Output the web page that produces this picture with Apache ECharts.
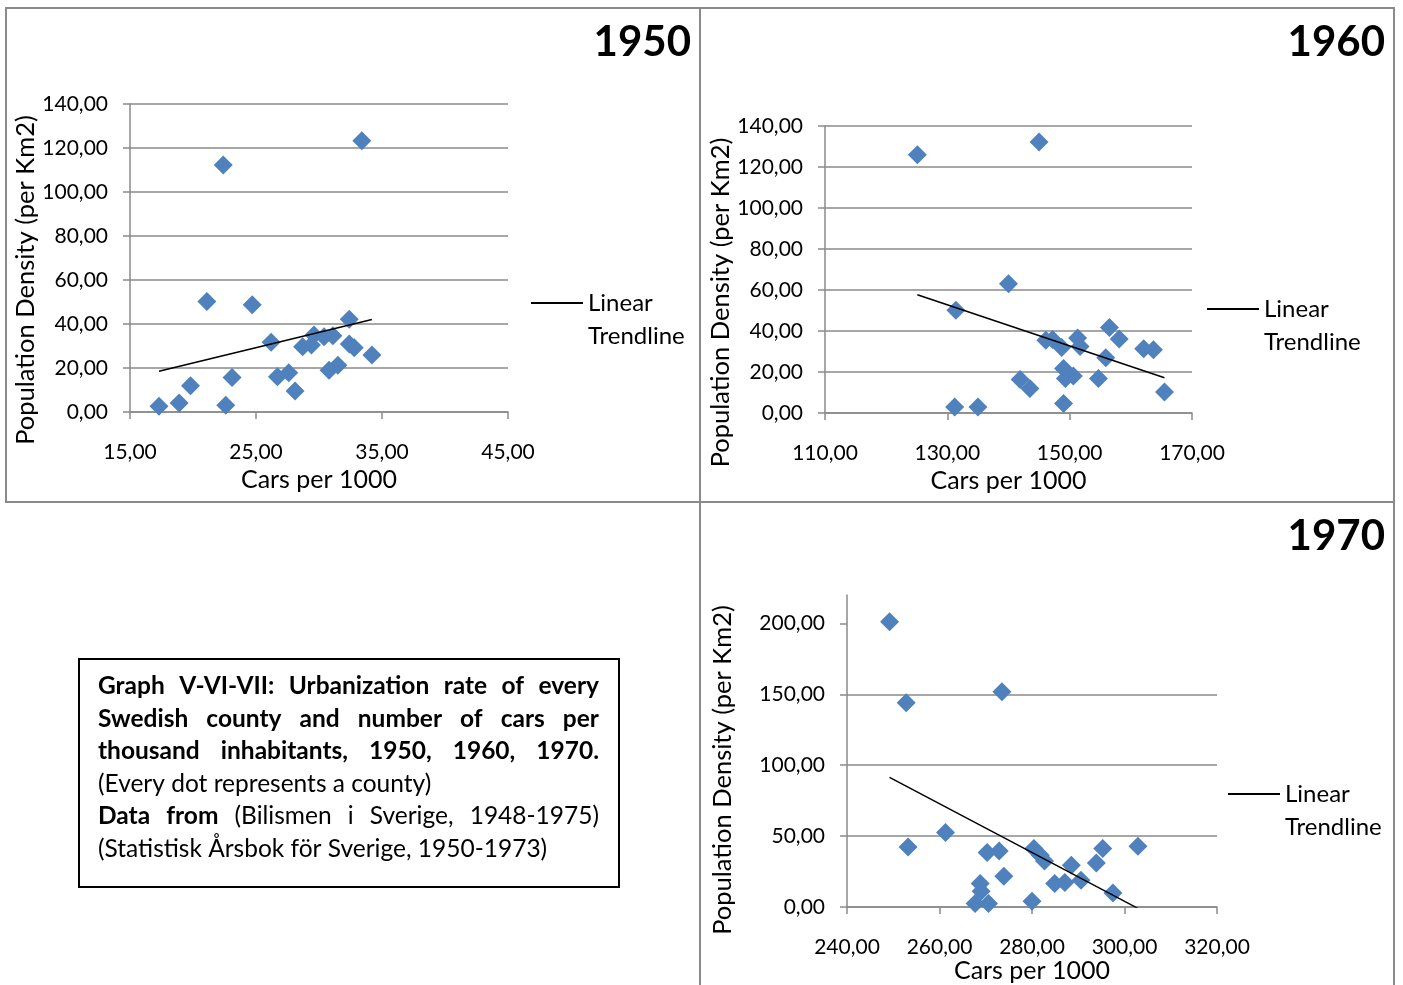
<!DOCTYPE html>
<html><head><meta charset="utf-8">
<script src="https://cdn.jsdelivr.net/npm/echarts@6/dist/echarts.min.js"></script>
<style>html,body{margin:0;padding:0;background:#fff}#c{width:1403px;height:985px}</style>
</head><body><div id="c"></div>
<script>
// ---------------- DATA ----------------
const years = ['1950', '1960', '1970'];
const cars1950 = [17.3, 18.9, 19.8, 21.1, 22.4, 22.6, 23.1, 24.7, 26.2, 26.7, 27.6, 28.1, 28.7, 29.4, 29.6, 30.4, 31.1, 30.8, 31.5, 32.4, 32.4, 32.8, 33.4, 34.2];
const dens1950 = [2.6, 4.1, 11.9, 50.2, 112.3, 3.1, 15.7, 48.7, 31.7, 16.0, 17.8, 9.5, 29.7, 30.5, 35.0, 34.2, 34.7, 19.0, 21.3, 42.2, 30.9, 29.2, 123.3, 25.9];
const cars1960 = [125.1, 145.0, 131.4, 140.0, 131.2, 135.0, 141.9, 143.5, 146.1, 147.2, 148.7, 149.0, 149.3, 150.6, 149.0, 151.3, 151.7, 154.7, 155.9, 156.5, 158.1, 162.1, 163.7, 165.5];
const dens1960 = [126.0, 132.2, 50.1, 63.1, 2.9, 2.9, 16.3, 11.9, 35.5, 35.8, 31.9, 21.7, 16.8, 18.0, 4.6, 36.6, 32.5, 16.8, 27.0, 41.7, 36.1, 31.4, 30.9, 10.2];
const cars1970 = [249.2, 252.8, 273.5, 253.2, 261.3, 268.8, 269.0, 267.7, 270.6, 270.3, 272.9, 273.9, 280.0, 280.4, 281.8, 282.7, 284.9, 287.1, 288.5, 290.6, 293.9, 295.3, 297.5, 302.9];
const dens1970 = [201.1, 144.0, 151.7, 42.3, 52.5, 16.5, 11.1, 2.4, 2.4, 38.4, 39.5, 21.7, 4.0, 41.2, 36.5, 32.5, 16.5, 17.2, 29.4, 18.8, 31.1, 41.2, 9.9, 42.8];
const xTicks1950 = [15, 25, 35, 45];
const xTicks1960 = [110, 130, 150, 170];
const xTicks1970 = [240, 260, 280, 300, 320];
const yTicks1950 = [0, 20, 40, 60, 80, 100, 120, 140];
const yTicks1960 = [0, 20, 40, 60, 80, 100, 120, 140];
const yTicks1970 = [0, 50, 100, 150, 200];
const yMax1970 = 220;
const xAxisTitle = 'Cars per 1000';
const yAxisTitle = 'Population Density (per Km2)';
const trendName = 'Linear\nTrendline';
const noteLines = [
  { parts: [['Graph V-VI-VII: Urbanization rate of every', true]], justify: true },
  { parts: [['Swedish county and number of cars per', true]], justify: true },
  { parts: [['thousand inhabitants, 1950, 1960, 1970.', true]], justify: true },
  { parts: [['(Every dot represents a county)', false]], justify: false },
  { parts: [['Data from', true], ['(Bilismen i Sverige, 1948-1975)', false]], justify: true },
  { parts: [['(Statistisk Årsbok för Sverige, 1950-1973)', false]], justify: false }
];

// ---------------- LAYOUT / STYLE ----------------
const FONT = 'Lato';
const blue = '#4F81BD';
const gridGray = '#8a8a8a';
const panels = [
  { cars: cars1950, dens: dens1950, xt: xTicks1950, yt: yTicks1950, yMax: 140,
    grid: { left: 130, top: 104, width: 378, height: 308 },
    titleRight: 707, titleTop: 16, legendLeft: 531, legendIconY: 303,
    yGap: 89, yShift: 22, xGap: 55 },
  { cars: cars1960, dens: dens1960, xt: xTicks1960, yt: yTicks1960, yMax: 140,
    grid: { left: 825, top: 126, width: 367, height: 287 },
    titleRight: 13, titleTop: 16, legendLeft: 1207, legendIconY: 309,
    yGap: 90, yShift: 33, xGap: 55 },
  { cars: cars1970, dens: dens1970, xt: xTicks1970, yt: yTicks1970, yMax: yMax1970,
    grid: { left: 847, top: 595, width: 370, height: 312 },
    titleRight: 13, titleTop: 510, legendLeft: 1228, legendIconY: 794,
    yGap: 111, yShift: 19, xGap: 50 }
];

function fmt(v) { return v.toFixed(2).replace('.', ','); }
function fit(xs, ys) {
  const n = xs.length;
  const mx = xs.reduce((a, b) => a + b, 0) / n;
  const my = ys.reduce((a, b) => a + b, 0) / n;
  let sxx = 0, sxy = 0;
  for (let i = 0; i < n; i++) { sxx += (xs[i] - mx) * (xs[i] - mx); sxy += (xs[i] - mx) * (ys[i] - my); }
  const b = sxy / sxx, a = my - b * mx;
  const x0 = Math.min(...xs), x1 = Math.max(...xs);
  return [[x0, a + b * x0], [x1, a + b * x1]];
}

const LH = 33;
const option = {
  animation: false,
  backgroundColor: '#fff',
  textStyle: { fontFamily: FONT },
  grid: [], xAxis: [], yAxis: [], series: [], title: [], legend: [], graphic: []
};

panels.forEach((p, i) => {
  option.grid.push(Object.assign({ containLabel: false }, p.grid));
  option.title.push({
    text: years[i], right: p.titleRight, top: p.titleTop,
    textStyle: { fontFamily: FONT, fontSize: 42, fontWeight: 'bold', color: '#000' }
  });
  option.xAxis.push({
    type: 'value', gridIndex: i, min: p.xt[0], max: p.xt[p.xt.length - 1],
    name: xAxisTitle, nameLocation: 'middle', nameGap: p.xGap,
    nameTextStyle: { fontFamily: FONT, fontSize: 25, color: '#000' },
    axisLine: { show: true, lineStyle: { color: gridGray, width: 1.5 } },
    axisTick: { show: true, length: 7, customValues: p.xt, lineStyle: { color: gridGray, width: 1.5 } },
    axisLabel: { customValues: p.xt, formatter: fmt, fontFamily: FONT, fontSize: 21, color: '#000', margin: 30 },
    splitLine: { show: false }
  });
  option.yAxis.push({
    type: 'value', gridIndex: i, min: 0, max: p.yMax, interval: p.yt[1] - p.yt[0],
    name: yAxisTitle, nameLocation: 'middle', nameGap: p.yGap,
    nameTextStyle: { fontFamily: FONT, fontSize: 25.5, color: '#000', padding: [0, 2 * p.yShift, 0, 0] },
    axisLine: { show: true, lineStyle: { color: gridGray, width: 1.5 } },
    axisTick: { show: true, length: 7, customValues: p.yt, lineStyle: { color: gridGray, width: 1.5 } },
    axisLabel: { customValues: p.yt, formatter: fmt, fontFamily: FONT, fontSize: 21, color: '#000', margin: 22 },
    splitLine: { show: true, showMaxLine: p.yMax === p.yt[p.yt.length - 1], lineStyle: { color: gridGray, width: 1.5 } }
  });
  option.series.push({
    type: 'scatter', xAxisIndex: i, yAxisIndex: i, symbol: 'diamond', symbolSize: 19,
    itemStyle: { color: blue, opacity: 1 }, data: p.cars.map((c, k) => [c, p.dens[k]]), z: 2
  });
  option.series.push({
    type: 'line', name: trendName, xAxisIndex: i, yAxisIndex: i, symbol: 'none', z: 3,
    lineStyle: { color: '#000', width: 1.5 }, itemStyle: { color: '#000' },
    data: fit(p.cars, p.dens), clip: true
  });
  option.legend.push({
    data: [trendName], left: p.legendLeft, top: p.legendIconY - 1.5 * LH, padding: 0,
    selectedMode: false, icon: 'rect', itemWidth: 52, itemHeight: 2, itemGap: 0,
    itemStyle: { color: '#000' },
    formatter: name => '\u00a0\n' + name,
    textStyle: { fontFamily: FONT, fontSize: 24, color: '#000', lineHeight: LH }
  });
});

// panel borders
[[6, 8, 694, 494], [700, 8, 694, 494], [700, 502, 694, 500]].forEach(r => {
  option.graphic.push({ type: 'rect', shape: { x: r[0], y: r[1], width: r[2], height: r[3] },
    style: { fill: 'none', stroke: gridGray, lineWidth: 2 }, z: 0, silent: true });
});
// note box
option.graphic.push({ type: 'rect', shape: { x: 79, y: 659, width: 540, height: 228 },
  style: { fill: 'none', stroke: '#000', lineWidth: 2 }, z: 0, silent: true });

// justified note text, measured with canvas
const ctx = document.createElement('canvas').getContext('2d');
const noteFS = 24.5, noteLeft = 98, noteWidth = 501, noteTop = 686, noteLH = 32.6;
function fontStr(b) { return (b ? 'bold ' : '') + noteFS + 'px ' + FONT; }
noteLines.forEach((ln, li) => {
  const words = [];
  ln.parts.forEach(pt => pt[0].split(' ').forEach(w => words.push({ w, b: pt[1] })));
  words.forEach(o => { ctx.font = fontStr(o.b); o.width = ctx.measureText(o.w).width; });
  ctx.font = fontStr(false);
  const space = ctx.measureText(' ').width;
  const total = words.reduce((a, o) => a + o.width, 0);
  const gap = ln.justify ? (noteWidth - total) / (words.length - 1) : space;
  let x = noteLeft;
  words.forEach(o => {
    option.graphic.push({ type: 'text', x: x, y: noteTop + li * noteLH, silent: true,
      style: { text: o.w, font: fontStr(o.b), fill: '#000', verticalAlign: 'middle', align: 'left' } });
    x += o.width + gap;
  });
});

const chart = echarts.init(document.getElementById('c'), null, { renderer: 'canvas' });
chart.setOption(option);
</script></body></html>
